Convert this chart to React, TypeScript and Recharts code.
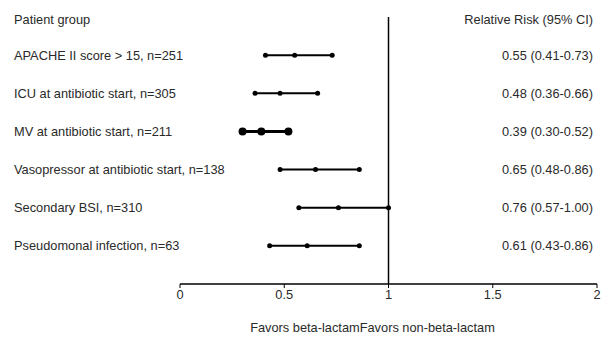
import * as React from "react";
import {
  ScatterChart,
  Scatter,
  XAxis,
  YAxis,
  ReferenceLine,
} from "recharts";

const groups = [
  "Patient group",
  "APACHE II score > 15, n=251",
  "ICU at antibiotic start, n=305",
  "MV at antibiotic start, n=211",
  "Vasopressor at antibiotic start, n=138",
  "Secondary BSI, n=310",
  "Pseudomonal infection, n=63",
];
const ciLabels = [
  "Relative Risk (95% CI)",
  "0.55 (0.41-0.73)",
  "0.48 (0.36-0.66)",
  "0.39 (0.30-0.52)",
  "0.65 (0.48-0.86)",
  "0.76 (0.57-1.00)",
  "0.61 (0.43-0.86)",
];
const relRisk = [0.55, 0.48, 0.39, 0.65, 0.76, 0.61];
const lower = [0.41, 0.36, 0.3, 0.48, 0.57, 0.43];
const upper = [0.73, 0.66, 0.52, 0.86, 1.0, 0.86];
const xTicks = [0, 0.5, 1, 1.5, 2];
const rowTicks = [0, 1, 2, 3, 4, 5, 6];

const FONT = "'Liberation Sans', Arial, sans-serif";
const TEXT = "#2a2a2a";

const rows = relRisk.map((rr, i) => ({
  row: i + 1,
  points: [
    { x: lower[i], y: i + 1 },
    { x: rr, y: i + 1 },
    { x: upper[i], y: i + 1 },
  ],
  big: i === 2,
}));

// left column = group names, right column = RR (95% CI), both hung off the row ticks
function RowTick(props: any) {
  const { y, payload } = props;
  const dy = payload.value === 0 ? 7 : 4.5;
  return (
    <g>
      <text x={14} y={y} dy={dy} textAnchor="start" fontSize={12.8} fontFamily={FONT} fill={TEXT}>
        {groups[payload.value]}
      </text>
      <text x={593} y={y} dy={dy} textAnchor="end" fontSize={12.8} fontFamily={FONT} fill={TEXT}>
        {ciLabels[payload.value]}
      </text>
    </g>
  );
}

export default function App() {
  return (
    <div style={{ position: "absolute", left: 0, top: 0, width: 608, height: 337, background: "#fff" }}>
      <ScatterChart width={608} height={337} margin={{ top: 17, right: 11, bottom: 0, left: 0 }}>
        <XAxis
          type="number"
          dataKey="x"
          domain={[0, 2]}
          ticks={xTicks}
          height={53}
          axisLine={{ stroke: "#000", strokeWidth: 1.5 }}
          tickLine={{ stroke: "#000" }}
          tickSize={4}
          tick={{ fontSize: 12.8, fontFamily: FONT, fill: TEXT }}
          label={{
            value: "Favors beta-lactamFavors non-beta-lactam",
            position: "insideBottom",
            offset: 5,
            dx: -16,
            style: { fontSize: 12.8, fontFamily: FONT, fill: TEXT },
          }}
        />
        <YAxis
          type="number"
          dataKey="y"
          domain={[0, 7]}
          reversed
          ticks={rowTicks}
          width={180}
          axisLine={false}
          tickLine={false}
          tick={<RowTick />}
        />
        <ReferenceLine x={1} stroke="#000" strokeWidth={1.5} />
        {rows.map((r) => (
          <Scatter
            key={r.row}
            data={r.points}
            isAnimationActive={false}
            line={{ stroke: "#000", strokeWidth: r.big ? 3 : 2 }}
            shape={(p: any) => <circle cx={p.cx} cy={p.cy} r={r.big ? 4 : 2.5} fill="#000" />}
          />
        ))}
      </ScatterChart>
    </div>
  );
}
